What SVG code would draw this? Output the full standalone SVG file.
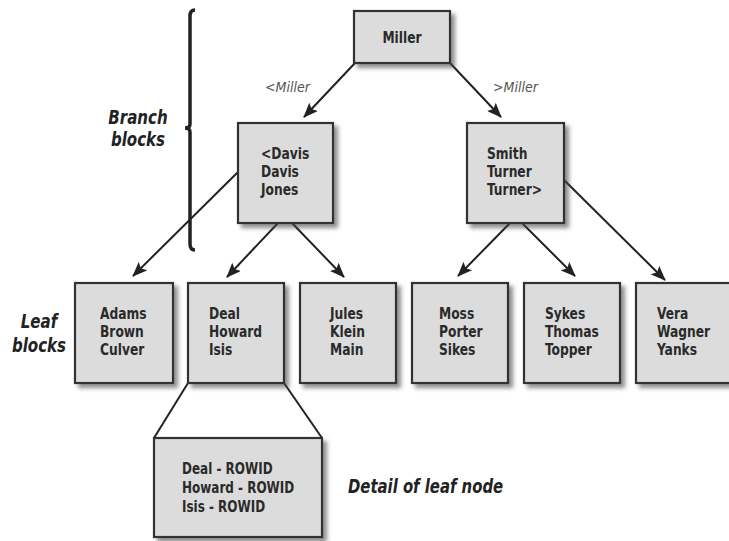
<svg xmlns="http://www.w3.org/2000/svg" width="729" height="541" viewBox="0 0 729 541">
  <defs>
    <filter id="shadow" x="-10%" y="-10%" width="130%" height="130%">
      <feDropShadow dx="4" dy="4" stdDeviation="2" flood-color="#444" flood-opacity="0.6"/>
    </filter>
    <marker id="arrow" markerUnits="userSpaceOnUse" markerWidth="16" markerHeight="12" refX="14" refY="6" orient="auto">
      <path d="M0,0 L15,6 L0,12 L3,6 z" fill="#222"/>
    </marker>
  </defs>
  <style>
    .box { fill: #dcdcdc; stroke: #333; stroke-width: 2.2; filter: url(#shadow); }
    .txt { font-family: "DejaVu Sans Condensed", "DejaVu Sans", sans-serif; font-stretch: condensed; font-weight: bold; font-size: 15.5px; fill: #2a2a2a; }
    .lbl { font-family: "DejaVu Sans Condensed", "DejaVu Sans", sans-serif; font-stretch: condensed; font-weight: bold; font-style: italic; font-size: 19px; fill: #222; }
    .edge { font-family: "DejaVu Sans Condensed", "DejaVu Sans", sans-serif; font-stretch: condensed; font-style: italic; font-size: 14px; fill: #555; }
    .conn { stroke: #222; stroke-width: 2; fill: none; }
  </style>

  <rect width="729" height="541" fill="#fff"/>

  <!-- side labels and brace (text narrowed horizontally) -->
  <g id="branch-label" transform="translate(138,0) scale(0.88,1)">
    <text class="lbl" x="0" y="124" text-anchor="middle">Branch</text>
    <text class="lbl" x="0" y="146" text-anchor="middle">blocks</text>
  </g>
  <path id="brace" d="M195,10 Q190,10 190,16 L190,124 Q190,128 185,128 Q190,128 190,132 L190,244 Q190,250 195,250" fill="none" stroke="#222" stroke-width="3.5"/>
  <g id="leaf-label" transform="translate(39,0) scale(0.88,1)">
    <text class="lbl" x="0" y="328" text-anchor="middle">Leaf</text>
    <text class="lbl" x="0" y="352" text-anchor="middle">blocks</text>
  </g>
  <g id="detail-label" transform="translate(348,0) scale(0.87,1)">
    <text class="lbl" x="0" y="493">Detail of leaf node</text>
  </g>

  <!-- connectors -->
  <g id="connectors">
    <line class="conn" x1="355" y1="63" x2="304" y2="117" marker-end="url(#arrow)"/>
    <line class="conn" x1="450" y1="63" x2="501" y2="117" marker-end="url(#arrow)"/>
    <line class="conn" x1="238" y1="172" x2="133" y2="276" marker-end="url(#arrow)"/>
    <line class="conn" x1="278" y1="223" x2="227" y2="277" marker-end="url(#arrow)"/>
    <line class="conn" x1="292" y1="223" x2="344" y2="277" marker-end="url(#arrow)"/>
    <line class="conn" x1="510" y1="223" x2="458" y2="276" marker-end="url(#arrow)"/>
    <line class="conn" x1="522" y1="223" x2="575" y2="276" marker-end="url(#arrow)"/>
    <line class="conn" x1="564" y1="180" x2="665" y2="280" marker-end="url(#arrow)"/>
    <line class="conn" x1="188" y1="383" x2="154" y2="438"/>
    <line class="conn" x1="284" y1="383" x2="322" y2="438"/>
    <text class="edge" x="265" y="92">&lt;Miller</text>
    <text class="edge" x="493" y="92">&gt;Miller</text>
  </g>

  <!-- root -->
  <g id="node-miller">
    <rect class="box" x="354" y="11" width="96" height="52"/>
    <g transform="translate(402,0) scale(0.88,1)">
      <text class="txt" x="0" y="43" text-anchor="middle">Miller</text>
    </g>
  </g>

  <!-- branch blocks -->
  <g id="node-davis">
    <rect class="box" x="238" y="123" width="95" height="100"/>
    <g transform="translate(261,0) scale(0.88,1)">
      <text class="txt" x="0" y="159">&lt;Davis</text>
      <text class="txt" x="0" y="177">Davis</text>
      <text class="txt" x="0" y="195">Jones</text>
    </g>
  </g>
  <g id="node-smith">
    <rect class="box" x="467" y="123" width="97" height="100"/>
    <g transform="translate(487,0) scale(0.88,1)">
      <text class="txt" x="0" y="159">Smith</text>
      <text class="txt" x="0" y="177">Turner</text>
      <text class="txt" x="0" y="195">Turner&gt;</text>
    </g>
  </g>

  <!-- leaf blocks -->
  <g id="node-adams">
    <rect class="box" x="75" y="283" width="98" height="100"/>
    <g transform="translate(100,0) scale(0.88,1)">
      <text class="txt" x="0" y="319">Adams</text>
      <text class="txt" x="0" y="337">Brown</text>
      <text class="txt" x="0" y="355">Culver</text>
    </g>
  </g>
  <g id="node-deal">
    <rect class="box" x="188" y="283" width="96" height="100"/>
    <g transform="translate(209,0) scale(0.88,1)">
      <text class="txt" x="0" y="319">Deal</text>
      <text class="txt" x="0" y="337">Howard</text>
      <text class="txt" x="0" y="355">Isis</text>
    </g>
  </g>
  <g id="node-jules">
    <rect class="box" x="300" y="283" width="96" height="100"/>
    <g transform="translate(330,0) scale(0.88,1)">
      <text class="txt" x="0" y="319">Jules</text>
      <text class="txt" x="0" y="337">Klein</text>
      <text class="txt" x="0" y="355">Main</text>
    </g>
  </g>
  <g id="node-moss">
    <rect class="box" x="412" y="283" width="96" height="100"/>
    <g transform="translate(439,0) scale(0.88,1)">
      <text class="txt" x="0" y="319">Moss</text>
      <text class="txt" x="0" y="337">Porter</text>
      <text class="txt" x="0" y="355">Sikes</text>
    </g>
  </g>
  <g id="node-sykes">
    <rect class="box" x="524" y="283" width="96" height="100"/>
    <g transform="translate(545,0) scale(0.88,1)">
      <text class="txt" x="0" y="319">Sykes</text>
      <text class="txt" x="0" y="337">Thomas</text>
      <text class="txt" x="0" y="355">Topper</text>
    </g>
  </g>
  <g id="node-vera">
    <rect class="box" x="636" y="283" width="96" height="100"/>
    <g transform="translate(657,0) scale(0.88,1)">
      <text class="txt" x="0" y="319">Vera</text>
      <text class="txt" x="0" y="337">Wagner</text>
      <text class="txt" x="0" y="355">Yanks</text>
    </g>
  </g>

  <!-- expanded leaf -->
  <g id="node-detail">
    <rect class="box" x="154" y="438" width="168" height="99"/>
    <g transform="translate(182,0) scale(0.86,1)">
      <text class="txt" x="0" y="474">Deal - ROWID</text>
      <text class="txt" x="0" y="493">Howard - ROWID</text>
      <text class="txt" x="0" y="512">Isis - ROWID</text>
    </g>
  </g>
</svg>
